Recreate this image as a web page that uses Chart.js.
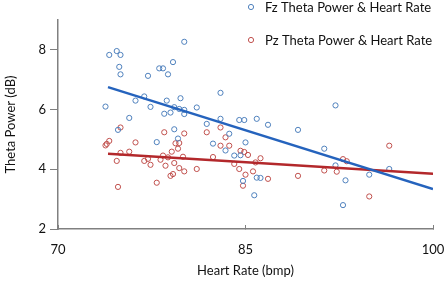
<!DOCTYPE html>
<html>
<head>
<meta charset="utf-8">
<script src="https://cdn.jsdelivr.net/npm/chart.js@4"></script>
<style>
  html, body { margin: 0; padding: 0; background: #fff; }
  #wrap { width: 447px; height: 282px; }
</style>
</head>
<body>
<div id="wrap"><canvas id="thetaChart" width="447" height="282"></canvas></div>
<script>
// Fz theta power vs heart rate
const fzHeartRate = [73.8, 74.1, 74.7, 75.0, 74.9, 75.0, 74.8, 75.7, 76.2, 76.9, 77.2, 77.4, 78.1, 78.4,
  78.8, 79.2, 80.1, 78.7, 79.8, 78.5, 79.0, 79.3, 79.7, 80.1, 80.1, 79.3, 79.6, 77.9, 81.1, 83.0,
  83.0, 81.9, 84.5, 84.9, 85.9, 86.8, 83.7, 82.4, 85.0, 83.4, 84.1, 84.6, 85.9, 86.2, 84.8, 85.7,
  89.2, 92.2, 91.3, 92.2, 93.0, 94.9, 96.5, 92.8];
const fzTheta = [6.10, 7.83, 7.96, 7.83, 7.43, 7.18, 5.32, 5.72, 6.30, 6.44, 7.13, 6.09, 7.38, 7.38,
  7.18, 7.59, 8.27, 6.30, 6.38, 5.86, 5.90, 6.08, 6.02, 5.99, 5.85, 5.34, 5.03, 4.91, 6.07, 6.56,
  5.69, 5.52, 5.65, 5.65, 5.69, 5.49, 5.19, 4.86, 4.90, 4.63, 4.46, 4.47, 3.72, 3.71, 3.61, 3.13,
  5.32, 6.14, 4.69, 4.13, 3.63, 3.82, 4.01, 2.80];

// Pz theta power vs heart rate
const pzHeartRate = [73.8, 73.9, 74.1, 75.0, 76.2, 75.0, 75.7, 74.7, 76.9, 77.2, 77.4, 74.8, 77.9, 78.5,
  80.1, 78.4, 78.2, 78.6, 78.8, 79.1, 79.4, 79.7, 79.6, 80.0, 79.0, 79.2, 79.7, 80.1, 79.3, 81.9,
  83.0, 83.4, 83.0, 83.7, 82.4, 81.1, 84.6, 84.9, 85.2, 86.2, 85.8, 84.1, 84.5, 85.0, 85.6, 86.8,
  84.8, 89.2, 96.5, 92.8, 93.1, 91.3, 92.3, 94.9];
const pzTheta = [4.80, 4.85, 4.95, 5.40, 4.90, 4.55, 4.59, 4.28, 4.28, 4.35, 4.15, 3.41, 3.55, 5.24,
  5.20, 4.46, 4.32, 4.12, 4.40, 4.59, 4.87, 4.88, 4.69, 4.42, 3.78, 3.84, 4.04, 3.93, 4.21, 5.24,
  5.40, 5.07, 4.79, 4.79, 4.41, 4.01, 4.62, 4.58, 4.48, 4.37, 4.23, 4.18, 4.01, 3.82, 3.93, 3.68,
  3.45, 3.78, 4.79, 4.34, 4.27, 3.96, 3.92, 3.09];

// trend line end points
const fzTrendX = [74, 100];
const fzTrendY = [6.75, 3.34];
const pzTrendX = [74, 100];
const pzTrendY = [4.52, 3.85];

const xTicks = [70, 85, 100];
const yTicks = [2, 4, 6, 8];

const toPoints = (xs, ys) => xs.map((x, i) => ({ x: x, y: ys[i] }));

const axisColor = "#808080";
const textColor = "#111";
const font = { family: "Lato", size: 13 };

// legend drawn over the plot, top right
const cornerLegend = {
  id: "cornerLegend",
  afterDatasetsDraw(chart) {
    const ctx = chart.ctx;
    const rows = [chart.data.datasets[0], chart.data.datasets[1]];
    const ys = [7, 40];
    ctx.save();
    ctx.font = "13px Lato";
    ctx.textBaseline = "middle";
    ctx.textAlign = "left";
    rows.forEach((ds, i) => {
      ctx.beginPath();
      ctx.arc(251, ys[i], 2.6, 0, Math.PI * 2);
      ctx.lineWidth = 1;
      ctx.strokeStyle = ds.borderColor;
      ctx.stroke();
      ctx.fillStyle = textColor;
      ctx.fillText(ds.label, 265, ys[i] + 1);
    });
    ctx.restore();
  },
};

const ctx = document.getElementById("thetaChart").getContext("2d");

new Chart(ctx, {
  type: "scatter",
  data: {
    datasets: [
      {
        label: "Fz Theta Power & Heart Rate",
        data: toPoints(fzHeartRate, fzTheta),
        borderColor: "#4F81BD",
        backgroundColor: "rgba(0,0,0,0)",
        pointRadius: 2.6,
        borderWidth: 1,
        order: 2,
      },
      {
        label: "Pz Theta Power & Heart Rate",
        data: toPoints(pzHeartRate, pzTheta),
        borderColor: "#C0504D",
        backgroundColor: "rgba(0,0,0,0)",
        pointRadius: 2.6,
        borderWidth: 1,
        order: 2,
      },
      {
        type: "line",
        label: "Fz trend",
        data: toPoints(fzTrendX, fzTrendY),
        borderColor: "#2563BD",
        borderWidth: 2.5,
        pointRadius: 0,
        fill: false,
        order: 0,
      },
      {
        type: "line",
        label: "Pz trend",
        data: toPoints(pzTrendX, pzTrendY),
        borderColor: "#B3282B",
        borderWidth: 2.5,
        pointRadius: 0,
        fill: false,
        order: 0,
      },
    ],
  },
  options: {
    responsive: false,
    animation: false,
    layout: { padding: { top: 20, right: 14, left: 0, bottom: 0 } },
    scales: {
      x: {
        type: "linear",
        min: 70,
        max: 100,
        afterFit: (scale) => {
          scale.height = 53;
          scale.paddingLeft = 0;
          scale.paddingRight = 0;
        },
        afterBuildTicks: (scale) => { scale.ticks = xTicks.map((v) => ({ value: v })); },
        border: { color: axisColor, width: 1.5 },
        grid: { drawOnChartArea: false, drawTicks: true, tickLength: -4, color: axisColor },
        ticks: { font: font, color: textColor, padding: 17, maxRotation: 0 },
        title: { display: true, text: "Heart Rate (bmp)", font: font, color: textColor, padding: { top: 0, bottom: 3 } },
      },
      y: {
        min: 2,
        max: 9,
        afterFit: (scale) => {
          scale.width = 58;
          scale.paddingTop = 0;
          scale.paddingBottom = 0;
        },
        afterBuildTicks: (scale) => { scale.ticks = yTicks.map((v) => ({ value: v })); },
        border: { color: axisColor, width: 1.5 },
        grid: { drawOnChartArea: false, drawTicks: true, tickLength: 8, color: axisColor },
        ticks: { font: font, color: textColor, padding: 4 },
        title: { display: true, text: "Theta Power (dB)", font: font, color: textColor, padding: { top: 3, bottom: 0 } },
      },
    },
    plugins: {
      legend: { display: false },
      tooltip: { enabled: false },
    },
  },
  plugins: [cornerLegend],
});
</script>
</body>
</html>
